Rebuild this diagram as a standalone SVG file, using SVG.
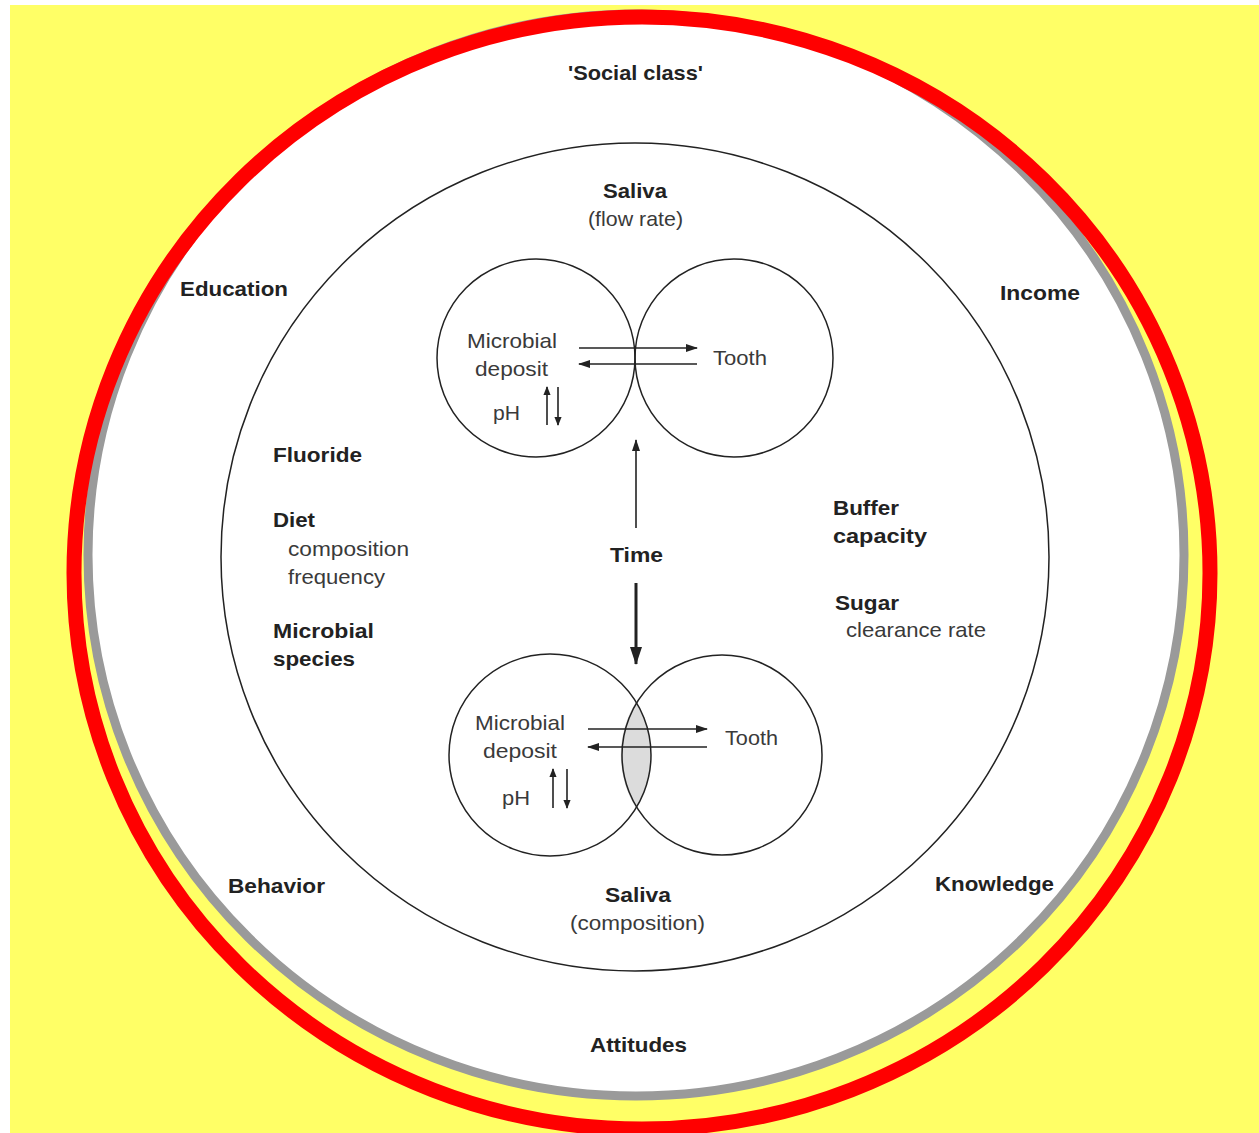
<svg xmlns="http://www.w3.org/2000/svg" width="1259" height="1133" viewBox="0 0 1259 1133">
<defs>
<style>
.b{font-family:"Liberation Sans",Arial,sans-serif;font-weight:bold;font-size:21px;fill:#222}
.r{font-family:"Liberation Sans",Arial,sans-serif;font-size:21px;fill:#3a3a3a}
.c{fill:none;stroke:#222;stroke-width:1.5}
.ln{stroke:#222;stroke-width:1.6;fill:none}
</style>
<marker id="ah" viewBox="0 0 12 8" refX="11" refY="4" markerWidth="12" markerHeight="8" markerUnits="userSpaceOnUse" orient="auto">
<path d="M0,0 L12,4 L0,8 Z" fill="#222"/>
</marker>
<marker id="ahs" viewBox="0 0 10 8" refX="9" refY="4" markerWidth="9" markerHeight="8" markerUnits="userSpaceOnUse" orient="auto">
<path d="M0,0 L10,4 L0,8 Z" fill="#222"/>
</marker>
<marker id="ahb" viewBox="0 0 18 12" refX="17" refY="6" markerWidth="18" markerHeight="12" markerUnits="userSpaceOnUse" orient="auto">
<path d="M0,0 L18,6 L0,12 Z" fill="#222"/>
</marker>
</defs>
<rect x="0" y="0" width="1259" height="1133" fill="#ffffff"/>
<rect x="10" y="5" width="1249" height="1128" fill="#ffff66"/>

<g id="outer-ring">
<ellipse cx="636" cy="555" rx="548" ry="541" fill="#ffffff" stroke="#9a9a9a" stroke-width="9"/>
<ellipse cx="642" cy="573" rx="568" ry="556" fill="none" stroke="#ff0000" stroke-width="15"/>
</g>

<g id="inner-circle">
<circle class="c" cx="635" cy="557" r="414"/>
</g>

<g id="top-deposit">
<circle class="c" cx="536" cy="358" r="99"/>
</g>
<g id="top-tooth">
<circle class="c" cx="734" cy="358" r="99"/>
</g>

<g id="bottom-overlap">
<path d="M636,702 A101,101 0 0 1 636,808 A100,100 0 0 1 636,702 Z" fill="#dcdcdc" stroke="none"/>
</g>
<g id="bottom-deposit">
<circle class="c" cx="550" cy="755" r="101"/>
</g>
<g id="bottom-tooth">
<circle class="c" cx="722" cy="755" r="100"/>
</g>

<g id="connectors">
<line class="ln" x1="579" y1="348" x2="697" y2="348" marker-end="url(#ah)"/>
<line class="ln" x1="697" y1="364" x2="579" y2="364" marker-end="url(#ah)"/>
<line class="ln" x1="547" y1="425" x2="547" y2="387" marker-end="url(#ahs)"/>
<line class="ln" x1="558" y1="387" x2="558" y2="425" marker-end="url(#ahs)"/>
<line class="ln" x1="588" y1="729" x2="707" y2="729" marker-end="url(#ah)"/>
<line class="ln" x1="707" y1="747" x2="588" y2="747" marker-end="url(#ah)"/>
<line class="ln" x1="553" y1="808" x2="553" y2="769" marker-end="url(#ahs)"/>
<line class="ln" x1="567" y1="769" x2="567" y2="808" marker-end="url(#ahs)"/>
<line class="ln" x1="636" y1="528" x2="636" y2="440" marker-end="url(#ah)"/>
<line x1="636" y1="583" x2="636" y2="664" stroke="#222" stroke-width="3" marker-end="url(#ahb)"/>
</g>

<g id="labels">
<text class="b" x="568" y="80" textLength="135" lengthAdjust="spacingAndGlyphs">'Social class'</text>
<text class="b" x="603" y="198" textLength="64" lengthAdjust="spacingAndGlyphs">Saliva</text>
<text class="r" x="588" y="226" textLength="95" lengthAdjust="spacingAndGlyphs">(flow rate)</text>
<text class="b" x="180" y="296" textLength="108" lengthAdjust="spacingAndGlyphs">Education</text>
<text class="b" x="1000" y="300" textLength="80" lengthAdjust="spacingAndGlyphs">Income</text>
<text class="r" x="467" y="348" textLength="90" lengthAdjust="spacingAndGlyphs">Microbial</text>
<text class="r" x="475" y="376" textLength="73" lengthAdjust="spacingAndGlyphs">deposit</text>
<text class="r" x="713" y="365" textLength="54" lengthAdjust="spacingAndGlyphs">Tooth</text>
<text class="r" x="493" y="420" textLength="27" lengthAdjust="spacingAndGlyphs">pH</text>
<text class="b" x="273" y="462" textLength="89" lengthAdjust="spacingAndGlyphs">Fluoride</text>
<text class="b" x="273" y="527" textLength="42" lengthAdjust="spacingAndGlyphs">Diet</text>
<text class="r" x="288" y="556" textLength="121" lengthAdjust="spacingAndGlyphs">composition</text>
<text class="r" x="288" y="584" textLength="97" lengthAdjust="spacingAndGlyphs">frequency</text>
<text class="b" x="273" y="638" textLength="101" lengthAdjust="spacingAndGlyphs">Microbial</text>
<text class="b" x="273" y="666" textLength="82" lengthAdjust="spacingAndGlyphs">species</text>
<text class="b" x="610" y="562" textLength="53" lengthAdjust="spacingAndGlyphs">Time</text>
<text class="b" x="833" y="515" textLength="66" lengthAdjust="spacingAndGlyphs">Buffer</text>
<text class="b" x="833" y="543" textLength="94" lengthAdjust="spacingAndGlyphs">capacity</text>
<text class="b" x="835" y="610" textLength="64" lengthAdjust="spacingAndGlyphs">Sugar</text>
<text class="r" x="846" y="637" textLength="140" lengthAdjust="spacingAndGlyphs">clearance rate</text>
<text class="r" x="475" y="730" textLength="90" lengthAdjust="spacingAndGlyphs">Microbial</text>
<text class="r" x="483" y="758" textLength="74" lengthAdjust="spacingAndGlyphs">deposit</text>
<text class="r" x="725" y="745" textLength="53" lengthAdjust="spacingAndGlyphs">Tooth</text>
<text class="r" x="502" y="805" textLength="28" lengthAdjust="spacingAndGlyphs">pH</text>
<text class="b" x="228" y="893" textLength="97" lengthAdjust="spacingAndGlyphs">Behavior</text>
<text class="b" x="935" y="891" textLength="119" lengthAdjust="spacingAndGlyphs">Knowledge</text>
<text class="b" x="605" y="902" textLength="66" lengthAdjust="spacingAndGlyphs">Saliva</text>
<text class="r" x="570" y="930" textLength="135" lengthAdjust="spacingAndGlyphs">(composition)</text>
<text class="b" x="590" y="1052" textLength="97" lengthAdjust="spacingAndGlyphs">Attitudes</text>
</g>
</svg>
